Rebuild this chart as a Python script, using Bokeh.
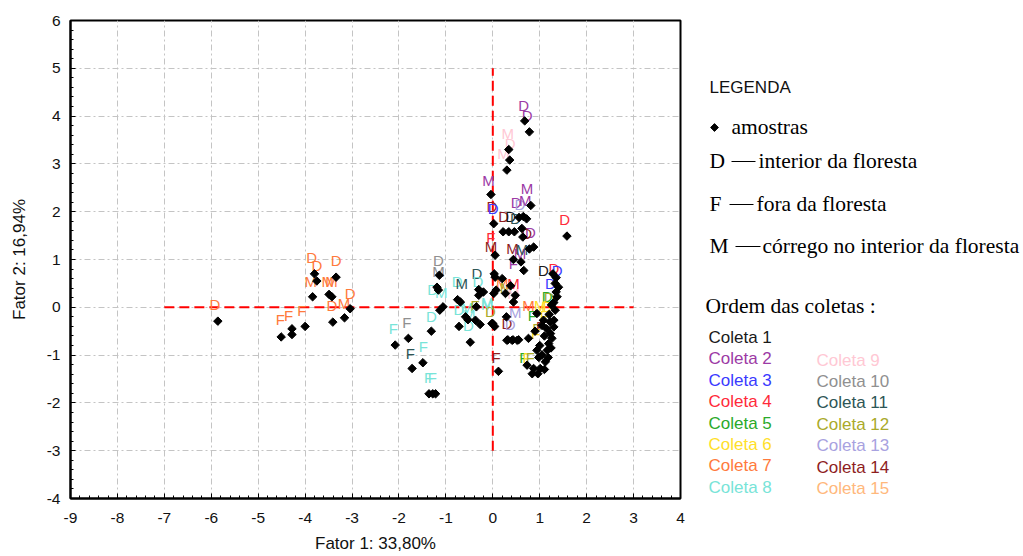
import math
from bokeh.plotting import figure
from bokeh.layouts import row
from bokeh.models import Range1d, FixedTicker, ColumnDataSource
from bokeh.core.properties import value
from bokeh.embed import file_html
from bokeh.resources import INLINE

# ---------------- data ----------------
coleta_colors = ["#1a1a1a", "#9c3aa5", "#3a3aff", "#ff2a3a", "#2aaa2a", "#ffe02a", "#ff7a3c",
                 "#78e4d8", "#ffc8d4", "#909090", "#2e5656", "#aaaa2a", "#a8a2e0", "#8e1e1e", "#ffb87c"]

pt_x = [-5.86, -3.80, -3.75, -3.34, -3.84, -3.49, -3.43, -3.04, -3.16, -3.41, -4.00, -4.28, -4.28, -4.51,
        -2.08, -1.80, -1.72, -1.49, -1.31, -1.36, -1.28, -1.22, -1.14, -1.19, -1.16, -1.06, -1.13,
        -0.75, -0.69, -0.72, -0.48, -0.53, -0.37, -0.27, -0.35, -0.30, -0.30, -0.58,
        0.00, 0.04, 0.12, 0.05, 0.03, 0.07, 0.29, 0.32, 0.43, 0.55, -0.20, 0.02, 0.44, 0.27, 0.48, 0.05,
        0.66, -0.02, 0.20, 0.38,
        0.68, 0.78, 0.34, 0.36, 0.30, -0.04, 0.81, 0.56, 0.65, 0.72, 0.02, 0.22, 0.34, 0.46, 0.62, 0.64,
        1.58, 0.87, 0.78, 0.44, 0.60,
        1.33, 1.40, 1.37, 1.30, 1.33, 1.30, 1.30, 1.26, 1.23, 1.19, 1.16, 1.12, 1.08, 1.05, 0.94, 0.94,
        0.76, 0.73, 0.87, 1.01, 0.84, 0.96, 0.30, 0.41, 0.52, 1.35, 1.25, 1.20, 1.15, 1.10, 1.05, 0.98,
        1.22, 1.35, 1.28, 1.00, 0.90, 1.10, 1.18, 1.24]
pt_y = [-0.29, 0.70, 0.55, 0.63, 0.22, 0.27, 0.22, -0.03, -0.22, -0.31, -0.40, -0.45, -0.57, -0.62,
        -0.79, -0.65, -1.28, -1.16, -0.50, -1.81, -1.81, -1.81, 0.67, 0.42, 0.36, 0.01, -0.06,
        0.16, 0.11, -0.40, -0.73, -0.26, -0.27, -0.36, 0.01, 0.25, 0.37, -0.20,
        -0.34, -0.40, -1.34, 1.09, 0.70, 0.36, -0.20, -0.68, -0.68, -0.68, 0.32, 0.29, 0.11, 0.29, 0.25, 0.63,
        0.77, -0.34, 0.60, 0.45,
        3.90, 3.67, 3.30, 3.08, 2.87, 2.36, 2.13, 1.88, 1.90, 1.85, 1.75, 1.58, 1.58, 1.58, 1.65, 1.47,
        1.49, 1.26, 1.22, 1.00, 0.95,
        0.50, 0.42, 0.22, 0.10, -0.06, -0.27, -0.41, -0.65, -0.55, -0.76, -0.90, -1.14, -0.27, -0.38, -0.13, -0.90,
        -0.65, -1.21, -1.28, -1.28, -1.39, -1.39, -0.69, -0.69, -0.69, 0.32, 0.05, -0.15, -0.45, -0.60, -1.00, -1.05,
        -0.30, 0.62, 0.70, -0.80, -0.50, -1.30, -1.05, -0.85]

lab_letter = ["D", "D", "D", "D", "M", "M", "M", "D", "D", "M", "F", "F", "F",
              "F", "F", "F", "F", "F", "F", "D", "D", "M", "M", "D", "D", "M", "D", "D", "D", "M", "F", "M", "M", "D", "D",
              "D", "D", "M", "D", "M", "M", "M", "D", "D", "M", "D", "D", "D", "D", "D", "D", "D", "D", "M", "F", "M", "M",
              "M",
              "F", "M", "M", "M", "M", "M",
              "D", "D", "D", "D", "D", "D", "M", "M", "D", "F", "F", "D", "D", "M", "F", "F", "F", "F", "F", "F", "F"]
lab_coleta = [7, 7, 7, 7, 7, 7, 7, 7, 7, 7, 7, 7, 7,
              8, 10, 11, 8, 8, 8, 8, 10, 10, 8, 8, 8, 11, 11, 8, 8, 8, 12, 8, 8, 12, 8,
              2, 2, 9, 9, 9, 2, 2, 2, 13, 2, 14, 3, 14, 1, 11, 2, 14, 4, 14, 4, 14, 2, 11,
              2, 7, 4, 12, 9, 8,
              1, 4, 3, 3, 5, 12, 7, 6, 6, 5, 6, 14, 13, 13, 12, 14, 6, 5, 6, 12, 14]
lab_x = [-5.92, -3.86, -3.75, -3.34, -3.88, -3.52, -3.44, -3.04, -3.43, -3.17, -4.07, -4.35, -4.53,
         -2.12, -1.83, -1.76, -1.48, -1.37, -1.29, -1.31, -1.16, -1.16, -1.10, -1.28, -0.76, -0.66, -0.34, -0.32,
         -0.72, -0.55, -0.38, -0.50, -0.12, -0.05, -0.52,
         0.66, 0.73, 0.32, 0.37, 0.23, -0.09, 0.73, 0.50, 0.58, 0.69, -0.02, 0.01, 0.23, 0.38, 0.48, 0.80, 0.72,
         1.53, -0.04, -0.04, 0.42, 0.58, 0.62,
         0.44, 0.20, 0.44, 0.28, 0.44, -0.12,
         1.08, 1.30, 1.37, 1.23, 1.16, 1.20, 0.76, 1.01, 1.15, 0.84, 1.10, 0.30, 0.37, 0.48, 0.94, 1.02, 0.91,
         0.66, 0.73, 0.80, 0.07]
lab_y = [0.05, 1.05, 0.88, 0.97, 0.53, 0.53, 0.53, 0.29, 0.04, 0.08, -0.06, -0.17, -0.26,
         -0.45, -0.31, -0.97, -0.82, -1.46, -1.46, -0.20, 0.98, 0.74, 0.32, 0.38, 0.53, 0.50, 0.70, 0.55,
         -0.04, 0.00, 0.04, -0.15, 0.06, -0.08, -0.38,
         4.23, 4.02, 3.63, 3.42, 3.22, 2.66, 2.48, 2.20, 2.16, 2.24, 2.10, 2.06, 1.89, 1.89, 1.86, 1.56, 1.54,
         1.84, 1.28, 1.45, 1.23, 1.12, 1.20,
         0.92, 0.50, 0.50, 0.42, 0.29, 0.11,
         0.77, 0.81, 0.77, 0.50, 0.22, 0.20, 0.04, 0.04, 0.02, -0.17, -0.17, -0.34, -0.36, -0.10, -0.45, -0.40,
         -0.55, -1.04, -1.04, -1.06, -1.04]

ref_h_x = [-7, 3]
ref_h_y = [0, 0]
ref_v_x = [0, 0]
ref_v_y = [-3, 5]

x_ticks = list(range(-9, 5))
y_ticks = list(range(-4, 7))

legend_title = "LEGENDA"
legend_symbol_text = "amostras"
legend_letters = ["D", "F", "M"]
legend_meanings = ["interior da floresta", "fora da floresta", "córrego no interior da floresta"]
order_title = "Ordem das coletas :"
coleta_names = ["Coleta %d" % i for i in range(1, 16)]

# ---------------- main figure ----------------
FL, FT, FR, FB = 70, 20, 680, 498   # frame edges on the page
W_MAIN = 690
p = figure(width=W_MAIN, height=556, x_range=Range1d(-9, 4), y_range=Range1d(-4, 6),
           output_backend="svg", toolbar_location=None,
           min_border_left=FL, min_border_top=FT,
           min_border_right=W_MAIN - FR, min_border_bottom=556 - FB)
p.background_fill_color = "white"
p.border_fill_color = "white"
p.outline_line_color = "black"
p.outline_line_width = 2

minor_x = [round(-9 + 0.2 * i, 2) for i in range(66)]
minor_y = [round(-4 + 0.2 * i, 2) for i in range(51)]
p.xaxis.ticker = FixedTicker(ticks=x_ticks, minor_ticks=minor_x)
p.yaxis.ticker = FixedTicker(ticks=y_ticks, minor_ticks=minor_y)
p.xaxis.major_label_overrides = {t: str(t) for t in x_ticks}
p.yaxis.major_label_overrides = {t: str(t) for t in y_ticks}
for ax in (p.xaxis[0], p.yaxis[0]):
    ax.major_tick_in = 5
    ax.major_tick_out = 0
    ax.minor_tick_in = 3
    ax.minor_tick_out = 0
    ax.axis_line_width = 2
    ax.major_tick_line_width = 1
    ax.major_label_text_font = "Liberation Sans"
    ax.major_label_text_font_size = "15.5px"
    ax.major_label_text_color = "#111111"
    ax.axis_label_text_font = "Liberation Sans"
    ax.axis_label_text_font_size = "17px"
    ax.axis_label_text_font_style = "normal"
    ax.axis_label_text_color = "#111111"
p.xaxis.axis_label = "Fator 1: 33,80%"
p.yaxis.axis_label = "Fator 2: 16,94%"
p.xaxis.major_label_standoff = 14
p.xaxis.axis_label_standoff = 8
p.yaxis.major_label_standoff = 10
p.yaxis.axis_label_standoff = 15

p.grid.grid_line_color = "#c4c4c4"
p.grid.grid_line_dash = "6 3 2 3"
p.grid.grid_line_width = 1

p.line(ref_h_x, ref_h_y, line_color="#ff0000", line_width=2, line_dash="10 5")
p.line(ref_v_x, ref_v_y, line_color="#ff0000", line_width=2, line_dash="10 5")

src = ColumnDataSource(dict(x=lab_x, y=lab_y, t=lab_letter,
                            c=[coleta_colors[k - 1] for k in lab_coleta]))
p.text(x="x", y="y", text="t", text_color="c", source=src,
       text_font=value("Liberation Sans"), text_font_size="15px",
       text_align="center", text_baseline="middle")

p.scatter(pt_x, pt_y, marker="square", size=6, angle=math.pi / 4,
          fill_color="black", line_color="black")

# ---------------- legend panel (ranges = page pixels) ----------------
lg = figure(width=1023 - W_MAIN, height=556, x_range=Range1d(W_MAIN, 1023), y_range=Range1d(FB, FT),
            output_backend="svg", toolbar_location=None,
            min_border_left=0, min_border_right=0, min_border_top=FT, min_border_bottom=556 - FB,
            x_axis_type=None, y_axis_type=None)
lg.grid.visible = False
lg.outline_line_color = None
lg.background_fill_color = "white"
lg.border_fill_color = "white"

serif = value("Liberation Serif")
sans = value("Liberation Sans")
SERIF_SIZE = "21.5px"

lg.text(x=[709], y=[87], text=[legend_title], text_font=sans, text_font_size="17px",
        text_color="#111111", text_baseline="middle")
lg.scatter([714], [127], marker="square", size=5.5, angle=math.pi / 4, color="black")
lg.text(x=[731], y=[126], text=[legend_symbol_text], text_font=serif, text_font_size=SERIF_SIZE,
        text_color="black", text_baseline="middle")

row_y = [160, 203, 245]
letter_x = [709, 709, 709]
line_x0 = [731, 729, 735]
line_x1 = [755, 753, 760]
text_x = [758, 756, 762]
lg.text(x=letter_x, y=row_y, text=legend_letters, text_font=serif, text_font_size=SERIF_SIZE,
        text_color="black", text_baseline="middle")
lg.segment(x0=line_x0, y0=[v + 1 for v in row_y], x1=line_x1, y1=[v + 1 for v in row_y],
           line_color="black", line_width=1)
lg.text(x=text_x, y=row_y, text=legend_meanings, text_font=serif, text_font_size=SERIF_SIZE,
        text_color="black", text_baseline="middle")

lg.text(x=[705], y=[305], text=[order_title], text_font=serif, text_font_size=SERIF_SIZE,
        text_color="black", text_baseline="middle")

cx = [708] * 8 + [816] * 7
cy = [337 + 21.4 * i for i in range(8)] + [359.5 + 21.4 * i for i in range(7)]
lg.text(x=cx, y=cy, text=coleta_names, text_color=coleta_colors, text_font=sans,
        text_font_size="17px", text_baseline="middle")

layout = row(p, lg)
open("out.html", "w").write(file_html(layout, INLINE))
